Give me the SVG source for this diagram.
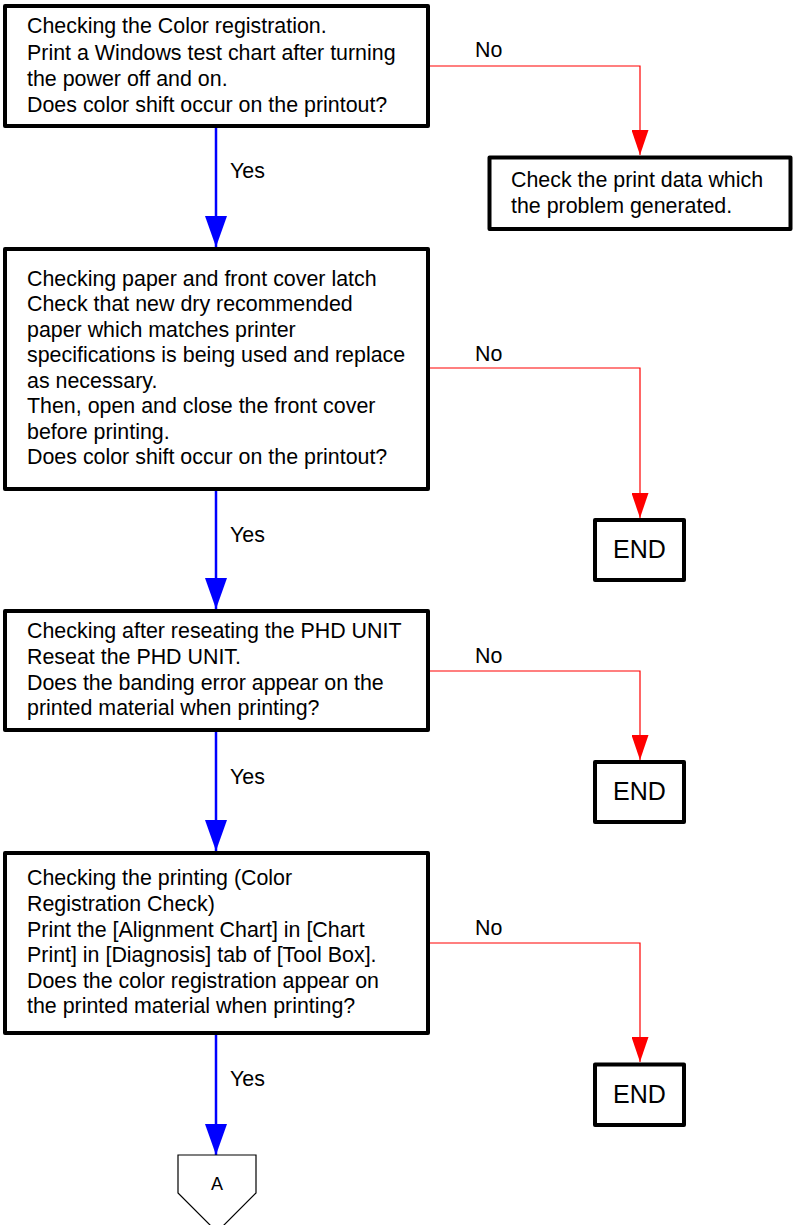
<svg xmlns="http://www.w3.org/2000/svg" width="795" height="1225" viewBox="0 0 795 1225">
<style>
.box{fill:#fff;stroke:#000;stroke-width:4;stroke-linejoin:round}
.t{font-family:"Liberation Sans",Arial,sans-serif;font-size:21.4px;fill:#000}
.end{font-family:"Liberation Sans",Arial,sans-serif;font-size:25px;fill:#000;text-anchor:middle}
.no{fill:none;stroke:#ff0000;stroke-width:1.2}
.yes{fill:none;stroke:#0000ff;stroke-width:2.5}
.conn{fill:#fff;stroke:#000;stroke-width:1.2}
</style>
<defs>
<marker id="ar" markerUnits="userSpaceOnUse" markerWidth="25" markerHeight="17" refX="25" refY="8.5" orient="auto" viewBox="0 0 25 17">
<path d="M0,0 L25,8.5 L0,17 Z" fill="#ff0000"/>
</marker>
<marker id="ab" markerUnits="userSpaceOnUse" markerWidth="31" markerHeight="22" refX="31" refY="11" orient="auto" viewBox="0 0 31 22">
<path d="M0,0 L31,11 L0,22 Z" fill="#0000ff"/>
</marker>
</defs>

<g id="connectors">
<path class="no" d="M430,66 H640 V155" marker-end="url(#ar)"/>
<path class="no" d="M430,368 H640 V518" marker-end="url(#ar)"/>
<path class="no" d="M430,671 H640 V760" marker-end="url(#ar)"/>
<path class="no" d="M430,943 H640 V1062" marker-end="url(#ar)"/>
<path class="yes" d="M216,128 V247" marker-end="url(#ab)"/>
<path class="yes" d="M216,491 V609" marker-end="url(#ab)"/>
<path class="yes" d="M216,732 V851" marker-end="url(#ab)"/>
<path class="yes" d="M216,1035 V1155" marker-end="url(#ab)"/>
<text class="t" x="475" y="57">No</text>
<text class="t" x="475" y="361">No</text>
<text class="t" x="475" y="663">No</text>
<text class="t" x="475" y="935">No</text>
<text class="t" x="230" y="178">Yes</text>
<text class="t" x="230" y="542">Yes</text>
<text class="t" x="230" y="784">Yes</text>
<text class="t" x="230" y="1086">Yes</text>
</g>

<g id="n1">
<rect class="box" x="5" y="6" width="423" height="120"/>
<text class="t" x="27" y="33">Checking the Color registration.</text>
<text class="t" x="27" y="60">Print a Windows test chart after turning</text>
<text class="t" x="27" y="86">the power off and on.</text>
<text class="t" x="27" y="112">Does color shift occur on the printout?</text>
</g>

<g id="n2">
<rect class="box" x="489.5" y="157.5" width="301" height="71.5"/>
<text class="t" x="511" y="187">Check the print data which</text>
<text class="t" x="511" y="213">the problem generated.</text>
</g>

<g id="n3">
<rect class="box" x="5" y="249" width="423" height="240"/>
<text class="t" x="27" y="286">Checking paper and front cover latch</text>
<text class="t" x="27" y="311">Check that new dry recommended</text>
<text class="t" x="27" y="337">paper which matches printer</text>
<text class="t" x="27" y="362">specifications is being used and replace</text>
<text class="t" x="27" y="388">as necessary.</text>
<text class="t" x="27" y="413">Then, open and close the front cover</text>
<text class="t" x="27" y="439">before printing.</text>
<text class="t" x="27" y="464">Does color shift occur on the printout?</text>
</g>

<g id="n4">
<rect class="box" x="595" y="520" width="89" height="60"/>
<text class="end" x="639.5" y="558">END</text>
</g>

<g id="n5">
<rect class="box" x="5" y="611" width="423" height="119"/>
<text class="t" x="27" y="638">Checking after reseating the PHD UNIT</text>
<text class="t" x="27" y="664">Reseat the PHD UNIT.</text>
<text class="t" x="27" y="690">Does the banding error appear on the</text>
<text class="t" x="27" y="715">printed material when printing?</text>
</g>

<g id="n6">
<rect class="box" x="595" y="762" width="89" height="60"/>
<text class="end" x="639.5" y="800">END</text>
</g>

<g id="n7">
<rect class="box" x="5" y="853" width="423" height="180"/>
<text class="t" x="27" y="885">Checking the printing (Color</text>
<text class="t" x="27" y="911">Registration Check)</text>
<text class="t" x="27" y="937">Print the [Alignment Chart] in [Chart</text>
<text class="t" x="27" y="962">Print] in [Diagnosis] tab of [Tool Box].</text>
<text class="t" x="27" y="988">Does the color registration appear on</text>
<text class="t" x="27" y="1013">the printed material when printing?</text>
</g>

<g id="n8">
<rect class="box" x="595" y="1064.5" width="89" height="60.5"/>
<text class="end" x="639.5" y="1103">END</text>
</g>

<g id="n9">
<path class="conn" d="M178,1155 H256 V1193 L217,1232 L178,1193 Z"/>
<text class="end" style="font-size:18px" x="217" y="1190">A</text>
</g>
</svg>
